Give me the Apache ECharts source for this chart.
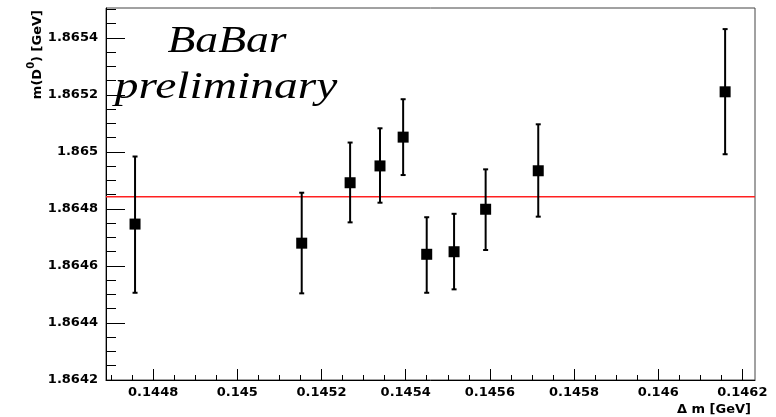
<!DOCTYPE html>
<html>
<head>
<meta charset="utf-8">
<script src="https://cdn.jsdelivr.net/npm/echarts@6/dist/echarts.min.js"></script>
<style>html,body{margin:0;padding:0;background:#fff;}#c{width:776px;height:417px;}</style>
</head>
<body>
<div id="c"></div>
<script>
// ---- data ----
const dmValues   = [0.144757, 0.145153, 0.145268, 0.145339, 0.145394, 0.145450, 0.145515, 0.145590, 0.145715, 0.146159];
const massValues = [1.864747, 1.864680, 1.864892, 1.864951, 1.865052, 1.864641, 1.864650, 1.864799, 1.864934, 1.865211];
const massLow    = [1.864506, 1.864504, 1.864753, 1.864822, 1.864919, 1.864506, 1.864518, 1.864656, 1.864773, 1.864992];
const massHigh   = [1.864984, 1.864857, 1.865033, 1.865083, 1.865185, 1.864771, 1.864783, 1.864939, 1.865097, 1.865431];
const fitMass = 1.864843;
const xTickValues = [0.1448, 0.1450, 0.1452, 0.1454, 0.1456, 0.1458, 0.1460, 0.1462];
const yTickValues = [1.8642, 1.8644, 1.8646, 1.8648, 1.8650, 1.8652, 1.8654];
const xMin = 0.144688, xMax = 0.14623;
const yMin = 1.8642, yMax = 1.865505;

function minorTicks(lo, hi, step, majors) {
  const out = [];
  for (let k = Math.ceil(lo / step - 1e-6); k * step <= hi + 1e-12; k++) {
    const v = +(k * step).toFixed(7);
    if (!majors.some(m => Math.abs(m - v) < step / 10)) out.push(v);
  }
  return out;
}
const xMinor = minorTicks(xMin, xMax, 0.00005, xTickValues);
const yMinor = minorTicks(yMin, yMax, 0.00005, yTickValues);
const fmt = v => parseFloat(v.toFixed(4)).toString();

const labelFont = {fontFamily: 'DejaVu Sans', fontWeight: 'bold', fontSize: 13, color: '#000'};

const chart = echarts.init(document.getElementById('c'), null, {renderer: 'canvas'});
chart.setOption({
  animation: false,
  backgroundColor: '#fff',
  grid: {left: 106, right: 21, top: 8, bottom: 37, show: true, borderColor: '#444', borderWidth: 1, backgroundColor: 'transparent'},
  xAxis: [
    {type: 'value', min: xMin, max: xMax, position: 'bottom',
     axisLine: {show: true, lineStyle: {color: '#000', width: 1}},
     axisTick: {show: true, inside: true, length: 11, customValues: xTickValues, lineStyle: {color: '#000', width: 1}},
     axisLabel: Object.assign({show: true, margin: 6, customValues: xTickValues, formatter: fmt}, labelFont),
     splitLine: {show: false}},
    {type: 'value', min: xMin, max: xMax, position: 'bottom',
     axisLine: {show: false},
     axisTick: {show: true, inside: true, length: 5, customValues: xMinor, lineStyle: {color: '#000', width: 1}},
     axisLabel: {show: false}, splitLine: {show: false}}
  ],
  yAxis: [
    {type: 'value', min: yMin, max: yMax, position: 'left',
     axisLine: {show: true, lineStyle: {color: '#000', width: 1}},
     axisTick: {show: true, inside: true, length: 19, customValues: yTickValues, lineStyle: {color: '#000', width: 1}},
     axisLabel: Object.assign({show: true, margin: 8, customValues: yTickValues, formatter: fmt}, labelFont),
     splitLine: {show: false}},
    {type: 'value', min: yMin, max: yMax, position: 'left',
     axisLine: {show: false},
     axisTick: {show: true, inside: true, length: 10, customValues: yMinor, lineStyle: {color: '#000', width: 1}},
     axisLabel: {show: false}, splitLine: {show: false}}
  ],
  series: [
    {type: 'line', xAxisIndex: 0, yAxisIndex: 0, z: 1, silent: true, symbol: 'none',
     lineStyle: {color: '#ff2020', width: 1.5, type: 'solid'},
     data: [[xMin, fitMass], [xMax, fitMass]]},
    {type: 'custom', xAxisIndex: 0, yAxisIndex: 0, z: 2, silent: true,
     data: dmValues.map((x, i) => [x, massLow[i], massHigh[i]]),
     encode: {x: 0, y: [1, 2]},
     renderItem: function (params, api) {
       const x = api.value(0);
       const pLo = api.coord([x, api.value(1)]);
       const pHi = api.coord([x, api.value(2)]);
       const c = 2.5, st = {stroke: '#000', lineWidth: 2};
       return {type: 'group', children: [
         {type: 'line', shape: {x1: pLo[0], y1: pLo[1], x2: pHi[0], y2: pHi[1]}, style: st},
         {type: 'line', shape: {x1: pLo[0] - c, y1: pLo[1], x2: pLo[0] + c, y2: pLo[1]}, style: st},
         {type: 'line', shape: {x1: pHi[0] - c, y1: pHi[1], x2: pHi[0] + c, y2: pHi[1]}, style: st}
       ]};
     }},
    {type: 'scatter', xAxisIndex: 0, yAxisIndex: 0, z: 3, silent: true,
     symbol: 'rect', symbolSize: 11, itemStyle: {color: '#000', opacity: 1},
     data: dmValues.map((x, i) => [x, massValues[i]])}
  ],
  graphic: [
    {type: 'text', x: 227, y: 42, scaleX: 1.2, z: 10,
     style: {text: 'BaBar', fontFamily: 'Liberation Serif', fontStyle: 'italic', fontSize: 38, fill: '#000', align: 'center', verticalAlign: 'middle'}},
    {type: 'text', x: 226, y: 88, scaleX: 1.25, z: 10,
     style: {text: 'preliminary', fontFamily: 'Liberation Serif', fontStyle: 'italic', fontSize: 38, fill: '#000', align: 'center', verticalAlign: 'middle'}},
    {type: 'text', x: 751, y: 410, z: 10,
     style: {text: 'Δ m [GeV]', fontFamily: 'DejaVu Sans', fontWeight: 'bold', fontSize: 13, fill: '#000', align: 'right', verticalAlign: 'middle'}},
    {type: 'text', x: 35, y: 10, rotation: Math.PI / 2, z: 10,
     style: {text: '{b|m(D}{s|0}{b|) [GeV]}', fill: '#000', align: 'right', verticalAlign: 'middle',
       rich: {
         b: {fontFamily: 'DejaVu Sans', fontWeight: 'bold', fontSize: 13, fill: '#000', lineHeight: 18, verticalAlign: 'bottom'},
         s: {fontFamily: 'DejaVu Sans', fontWeight: 'bold', fontSize: 10, fill: '#000', lineHeight: 18, verticalAlign: 'top'}
       }}}
  ]
});
</script>
</body>
</html>
